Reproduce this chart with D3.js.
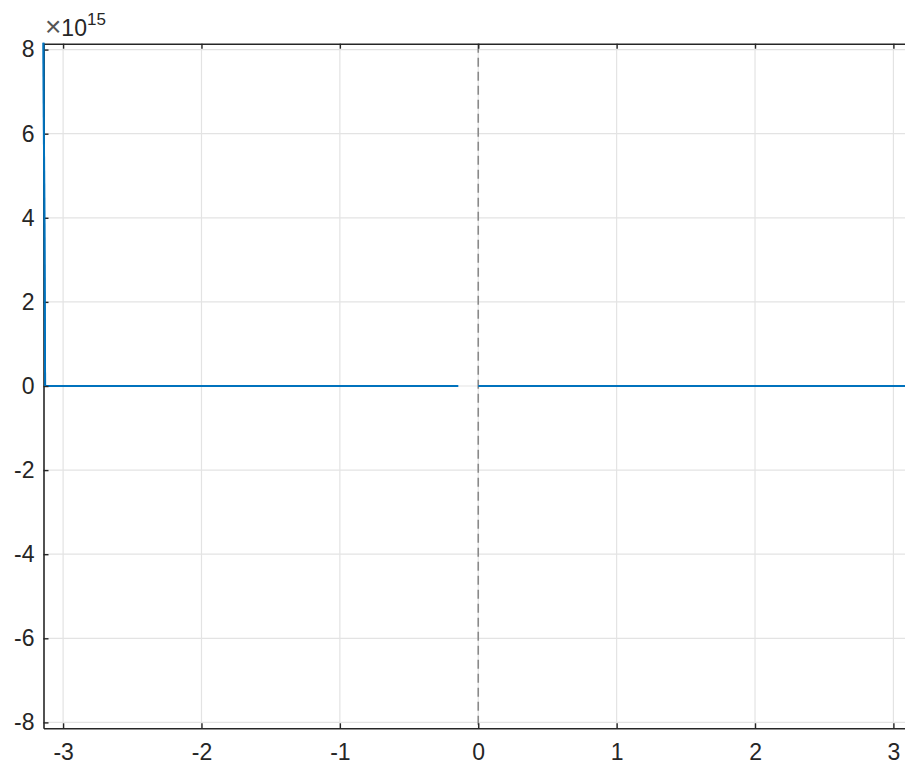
<!DOCTYPE html>
<html><head><meta charset="utf-8">
<script src="https://cdn.jsdelivr.net/npm/d3@7"></script>
<style>
html,body{margin:0;padding:0;background:#fff;}
svg{display:block;}
text{font-family:"Liberation Sans",Arial,sans-serif;fill:#262626;}
</style></head>
<body>
<script>
// Data (values in units)
const xTicks = [-3, -2, -1, 0, 1, 2, 3];
const yTicks = [-8, -6, -4, -2, 0, 2, 4, 6, 8];
const yExponent = 15;
const curveX = [-3.14159, -3.13, -1.5, -0.144, null, 0.0, 1.5, 3.14159];
const curveY = [8.165, 0, 0, 0, null, 0, 0, 0]; // ×10^15
const xLine = 0;

(function () {
const W = 905, H = 768;
const svg = d3.select("body").append("svg").attr("width", W).attr("height", H);

const x = d3.scaleLinear().domain([-Math.PI, Math.PI]).range([43.5, 913]);
const y = d3.scaleLinear().domain([-8.14, 8.14]).range([728.3, 43.7]);

const x0 = x.range()[0], x1 = x.range()[1], y0 = y.range()[1], y1 = y.range()[0];
const axisColor = "#262626";
const textColor = "#333333";
const gridColor = "#e3e3e3";
const fs = 23;

// grid
const g = svg.append("g");
g.selectAll(".gx").data(xTicks).enter().append("line")
  .attr("x1", d => x(d)).attr("x2", d => x(d)).attr("y1", y0).attr("y2", y1)
  .attr("stroke", gridColor).attr("stroke-width", 1.2);
g.selectAll(".gy").data(yTicks).enter().append("line")
  .attr("y1", d => y(d)).attr("y2", d => y(d)).attr("x1", x0).attr("x2", x1)
  .attr("stroke", gridColor).attr("stroke-width", 1.2);

// xline at 0
svg.append("line")
  .attr("x1", x(xLine)).attr("x2", x(xLine)).attr("y1", y0).attr("y2", y1)
  .attr("stroke", "#8a8a8a").attr("stroke-width", 1.6)
  .attr("stroke-dasharray", "9,5");

// curve
const pts = curveX.map((v, i) => [v, curveY[i]]);
const line = d3.line()
  .defined(d => d[0] !== null && d[1] !== null)
  .x(d => x(d[0])).y(d => y(d[1]));
svg.append("path").datum(pts)
  .attr("d", line).attr("fill", "none")
  .attr("stroke", "#0072BD").attr("stroke-width", 2);

// axes using d3 axis generators (ticks inward)
const fmt = d => String(d);
const axB = svg.append("g").attr("transform", `translate(0,${y1})`)
  .call(d3.axisBottom(x).tickValues(xTicks).tickSizeInner(-5).tickSizeOuter(0).tickPadding(15).tickFormat(fmt));
const axT = svg.append("g").attr("transform", `translate(0,${y0})`)
  .call(d3.axisTop(x).tickValues(xTicks).tickSizeInner(-5).tickSizeOuter(0).tickFormat(""));
const axL = svg.append("g").attr("transform", `translate(${x0},0)`)
  .call(d3.axisLeft(y).tickValues(yTicks).tickSizeInner(-5).tickSizeOuter(0).tickPadding(9).tickFormat(fmt));
const axR = svg.append("g").attr("transform", `translate(${x1},0)`)
  .call(d3.axisRight(y).tickValues(yTicks).tickSizeInner(-5).tickSizeOuter(0).tickFormat(""));

[axB, axT, axL, axR].forEach(a => {
  a.select(".domain").attr("stroke", axisColor).attr("stroke-width", 1.6);
  a.selectAll(".tick line").attr("stroke", axisColor).attr("stroke-width", 1.4);
  a.selectAll("text").attr("font-size", fs).attr("fill", textColor)
    .style("font-family", "'Liberation Sans', Arial, sans-serif");
});

// re-draw the curve spike on top of left axis
svg.append("path").datum(pts.slice(0, 2))
  .attr("d", line).attr("fill", "none")
  .attr("stroke", "#0072BD").attr("stroke-width", 2);

// exponent label
const ex = svg.append("text").attr("x", 45).attr("y", 36)
  .attr("fill", textColor);
ex.append("tspan").attr("font-size", 28).attr("font-weight", 300).attr("fill", "#555").text("×");
ex.append("tspan").attr("font-size", fs).text("10");
ex.append("tspan").attr("font-size", 17).attr("dy", -11).text(String(yExponent));
})();
</script>
</body></html>
